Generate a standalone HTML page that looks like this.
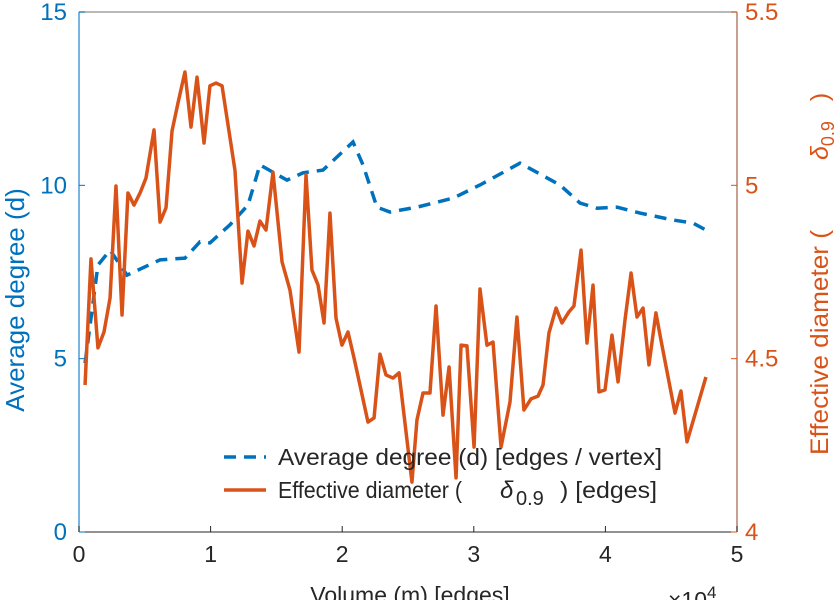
<!DOCTYPE html>
<html><head><meta charset="utf-8"><style>
body{margin:0;background:#fff}
svg text{font-family:"Liberation Sans",sans-serif}
</style></head><body>
<svg id="chart" width="838" height="600" viewBox="0 0 838 600" xmlns="http://www.w3.org/2000/svg"></svg>
<script>
const xTicks=[0,1,2,3,4,5];
const leftTicks=[0,5,10,15];
const rightTicks=[4,4.5,5,5.5];
const rightTickLabels=["4","4.5","5","5.5"];
const degreeX=[0.046,0.144,0.236,0.365,0.616,0.805,0.919,0.995,1.147,1.284,1.375,1.581,1.702,1.854,2.082,2.158,2.264,2.363,2.568,2.842,3.047,3.351,3.655,3.807,3.936,4.088,4.263,4.514,4.666,4.764];
const degreeY=[4.87,7.70,8.13,7.41,7.85,7.90,8.37,8.34,8.86,9.43,10.59,10.15,10.36,10.44,11.25,10.59,9.37,9.23,9.37,9.63,10.01,10.64,10.01,9.49,9.34,9.37,9.20,9.00,8.91,8.71];
const diamX=[0.046,0.091,0.144,0.190,0.236,0.281,0.327,0.372,0.418,0.464,0.509,0.570,0.616,0.661,0.707,0.752,0.805,0.851,0.897,0.950,0.995,1.041,1.087,1.185,1.239,1.284,1.330,1.375,1.421,1.474,1.543,1.603,1.672,1.725,1.770,1.816,1.862,1.907,1.953,1.998,2.044,2.090,2.196,2.242,2.287,2.333,2.386,2.432,2.530,2.568,2.614,2.667,2.713,2.766,2.812,2.865,2.903,2.948,3.002,3.047,3.100,3.146,3.207,3.275,3.328,3.381,3.435,3.488,3.526,3.571,3.625,3.670,3.723,3.761,3.815,3.860,3.906,3.951,3.997,4.050,4.096,4.149,4.195,4.240,4.286,4.331,4.384,4.422,4.529,4.574,4.620,4.764];
const diamY=[4.424,4.788,4.531,4.577,4.675,4.998,4.626,4.978,4.943,4.978,5.021,5.160,4.894,4.935,5.157,5.237,5.327,5.168,5.312,5.122,5.287,5.295,5.287,5.044,4.718,4.868,4.825,4.897,4.871,5.038,4.779,4.698,4.519,5.030,4.756,4.713,4.603,4.920,4.617,4.539,4.577,4.502,4.317,4.329,4.513,4.453,4.444,4.459,4.144,4.323,4.401,4.401,4.652,4.337,4.476,4.156,4.539,4.537,4.245,4.701,4.539,4.548,4.245,4.375,4.620,4.352,4.384,4.392,4.424,4.574,4.646,4.603,4.635,4.652,4.813,4.545,4.712,4.404,4.410,4.568,4.433,4.612,4.747,4.620,4.646,4.482,4.632,4.554,4.343,4.407,4.260,4.447];

const L=79,R=737,T=12,B=532;
const sx=v=>L+(v-0)/5*(R-L);
const syL=v=>B-(v-0)/15*(B-T);
const syR=v=>B-(v-4)/1.5*(B-T);
const svg=document.getElementById('chart');
const NS='http://www.w3.org/2000/svg';
function mk(tag,attrs,parent){const e=document.createElementNS(NS,tag);for(const k in attrs)e.setAttribute(k,attrs[k]);(parent||svg).appendChild(e);return e;}
const blue='#0072BD',orange='#D95319';

let e=mk('line',{x1:L,y1:T,x2:R,y2:T,stroke:'#a0a0a0','stroke-width':1.5});


e=mk('line',{x1:L,y1:B,x2:R,y2:B,stroke:'#262626','stroke-width':1});


e=mk('line',{x1:L,y1:T,x2:L,y2:B,stroke:'#4d9bd6','stroke-width':1.5});


e=mk('line',{x1:R,y1:T,x2:R,y2:B,stroke:'#b5806f','stroke-width':1.5});



xTicks.forEach(t=>{
  mk('line',{x1:sx(t),y1:B,x2:sx(t),y2:B-6,stroke:'#262626'});
  const tx=mk('text',{x:sx(t),y:B+30,'text-anchor':'middle','font-size':23,fill:'#262626'});
  tx.textContent=t;
  
  
});
leftTicks.forEach(t=>{
  mk('line',{x1:L,y1:syL(t),x2:L+6,y2:syL(t),stroke:blue});
  const tx=mk('text',{x:L-12,y:syL(t)+8,'text-anchor':'end','font-size':24,fill:blue});
  tx.textContent=t;
  
  
});
rightTicks.forEach((t,i)=>{
  mk('line',{x1:R,y1:syR(t),x2:R-6,y2:syR(t),stroke:orange});
  const tx=mk('text',{x:R+8,y:syR(t)+8,'text-anchor':'start','font-size':24,fill:orange});
  tx.textContent=rightTickLabels[i];
  
  
});

const dPts=degreeX.map((x,i)=>sx(x)+','+syL(degreeY[i])).join(' ');
e=mk('polyline',{points:dPts,fill:'none',stroke:blue,'stroke-width':3.5,'stroke-dasharray':'12 8'});


const oPts=diamX.map((x,i)=>sx(x)+','+syR(diamY[i])).join(' ');
e=mk('polyline',{points:oPts,fill:'none',stroke:orange,'stroke-width':3.5,'stroke-linejoin':'round'});


</script>
<svg width="838" height="600" style="position:absolute;left:0;top:0" xmlns="http://www.w3.org/2000/svg">
<g>
<line x1="224" y1="457" x2="266" y2="457" stroke="#0072BD" stroke-width="3.5" stroke-dasharray="12 8"/>
<text x="278" y="465" font-size="23" textLength="384" lengthAdjust="spacingAndGlyphs" fill="#262626" font-family="Liberation Sans, sans-serif">Average degree (d) [edges / vertex]</text>
<line x1="224" y1="490" x2="266" y2="490" stroke="#D95319" stroke-width="3.5"/>
<text x="278" y="498" font-size="23" textLength="184" lengthAdjust="spacingAndGlyphs" fill="#262626" font-family="Liberation Sans, sans-serif">Effective diameter (</text>
<text x="500" y="498" font-size="24" font-style="italic" fill="#262626" font-family="Liberation Sans, sans-serif">δ</text>
<text x="516" y="505" font-size="20" fill="#262626" font-family="Liberation Sans, sans-serif">0.9</text>
<text x="560" y="498" font-size="23" textLength="97" lengthAdjust="spacingAndGlyphs" fill="#262626" font-family="Liberation Sans, sans-serif">) [edges]</text>
</g>
<text x="410" y="603" text-anchor="middle" font-size="23" fill="#262626" font-family="Liberation Sans, sans-serif">Volume (m) [edges]</text>
<text x="668" y="608" font-size="23" fill="#262626" font-family="Liberation Sans, sans-serif">×10<tspan font-size="17" dy="-10">4</tspan></text>
<text transform="translate(24,300) rotate(-90)" text-anchor="middle" font-size="26" fill="#0072BD" font-family="Liberation Sans, sans-serif">Average degree (d)</text>
<text transform="translate(828,455) rotate(-90)" text-anchor="start" font-size="25" textLength="225" lengthAdjust="spacingAndGlyphs" fill="#D95319" font-family="Liberation Sans, sans-serif">Effective diameter (</text>
<text transform="translate(828,160) rotate(-90)" text-anchor="start" font-size="25" fill="#D95319" font-family="Liberation Sans, sans-serif"><tspan font-style="italic">δ</tspan><tspan font-size="18" dy="6">0.9</tspan><tspan dy="-6" dx="20">)</tspan></text>
</svg>
</body></html>
